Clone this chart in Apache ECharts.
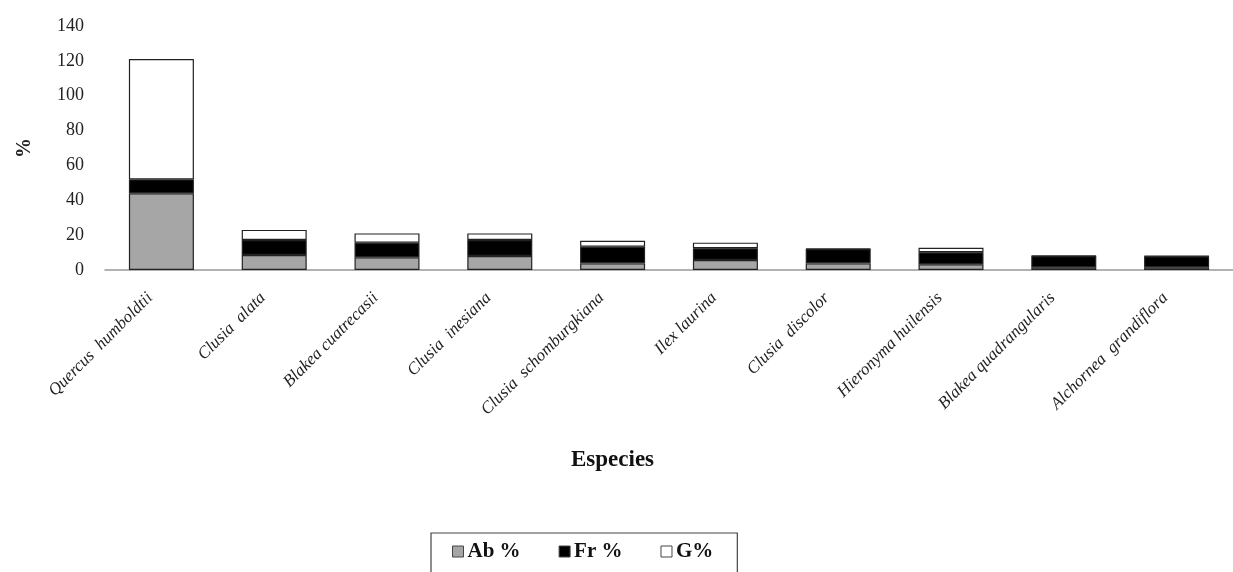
<!DOCTYPE html>
<html>
<head>
<meta charset="utf-8">
<script src="https://cdn.jsdelivr.net/npm/echarts@6/dist/echarts.min.js"></script>
<style>
html,body{margin:0;padding:0;background:#fff;}
#chart{width:1233px;height:572px;}
</style>
</head>
<body>
<div id="chart"></div>
<script>
const categories = ["Quercus  humboldtii","Clusia  alata","Blakea cuatrecasii","Clusia  inesiana","Clusia  schomburgkiana","Ilex laurina","Clusia  discolor","Hieronyma huilensis","Blakea quadrangularis","Alchornea  grandiflora"];
const abValues = [44, 8.6, 7.3, 8, 3.8, 5.7, 3.8, 3.3, 1.6, 1.6];
const frValues = [8, 8.6, 8.4, 9.2, 9.6, 6.8, 8.2, 6.9, 6.4, 6.3];
const gValues  = [69, 5.8, 5.3, 3.8, 3.4, 3.2, 0.3, 2.6, 0.2, 0.2];
const yTicks = [0, 20, 40, 60, 80, 100, 120, 140];

const serif = '"Liberation Serif", "DejaVu Serif", serif';
const chart = echarts.init(document.getElementById('chart'));
const seriesDefs = [
  {name: 'Ab %', data: abValues, color: '#a6a6a6'},
  {name: 'Fr %', data: frValues, color: '#000000'},
  {name: 'G%', data: gValues, color: '#ffffff'}
];
chart.setOption({
  animation: false,
  backgroundColor: '#fff',
  title: {
    text: 'Especies',
    left: 566, top: 444,
    textStyle: {fontFamily: serif, fontSize: 23, fontWeight: 'bold', color: '#111'}
  },
  grid: {left: 105, top: 26, width: 1134, height: 244, containLabel: false},
  legend: {
    left: 431, top: 533,
    padding: [8, 24, 12, 21],
    borderColor: '#444', borderWidth: 1.2,
    icon: 'rect',
    itemWidth: 11, itemHeight: 11, itemGap: 38,
    textStyle: {fontFamily: serif, fontSize: 21, fontWeight: 'bold', color: '#111', padding: [0,0,0,-1]},
    data: seriesDefs.map(s => ({name: s.name, itemStyle: {borderColor: '#444', borderWidth: 1}}))
  },
  xAxis: {
    type: 'category',
    data: categories,
    axisLine: {lineStyle: {color: '#999', width: 1.5}},
    axisTick: {show: false},
    axisLabel: {
      rotate: 45, margin: 14, interval: 0,
      fontFamily: serif, fontStyle: 'italic', fontSize: 17, color: '#222',
      padding: [0, 16, 0, 0]
    }
  },
  yAxis: {
    type: 'value',
    min: 0, max: 140, interval: 20,
    name: '%',
    nameLocation: 'middle',
    nameGap: 70,
    nameRotate: 90,
    nameTextStyle: {fontFamily: serif, fontSize: 20, fontWeight: 'bold', color: '#222'},
    axisLine: {show: false},
    axisTick: {show: false},
    splitLine: {show: false},
    axisLabel: {
      fontFamily: serif, fontSize: 18, color: '#222', margin: 21,
      formatter: v => yTicks.includes(v) ? String(v) : ''
    }
  },
  series: seriesDefs.map(s => ({
    name: s.name,
    type: 'bar',
    stack: 'total',
    data: s.data,
    barWidth: 65,
    itemStyle: {color: s.color, borderColor: '#222', borderWidth: 1.2}
  }))
});
</script>
</body>
</html>
